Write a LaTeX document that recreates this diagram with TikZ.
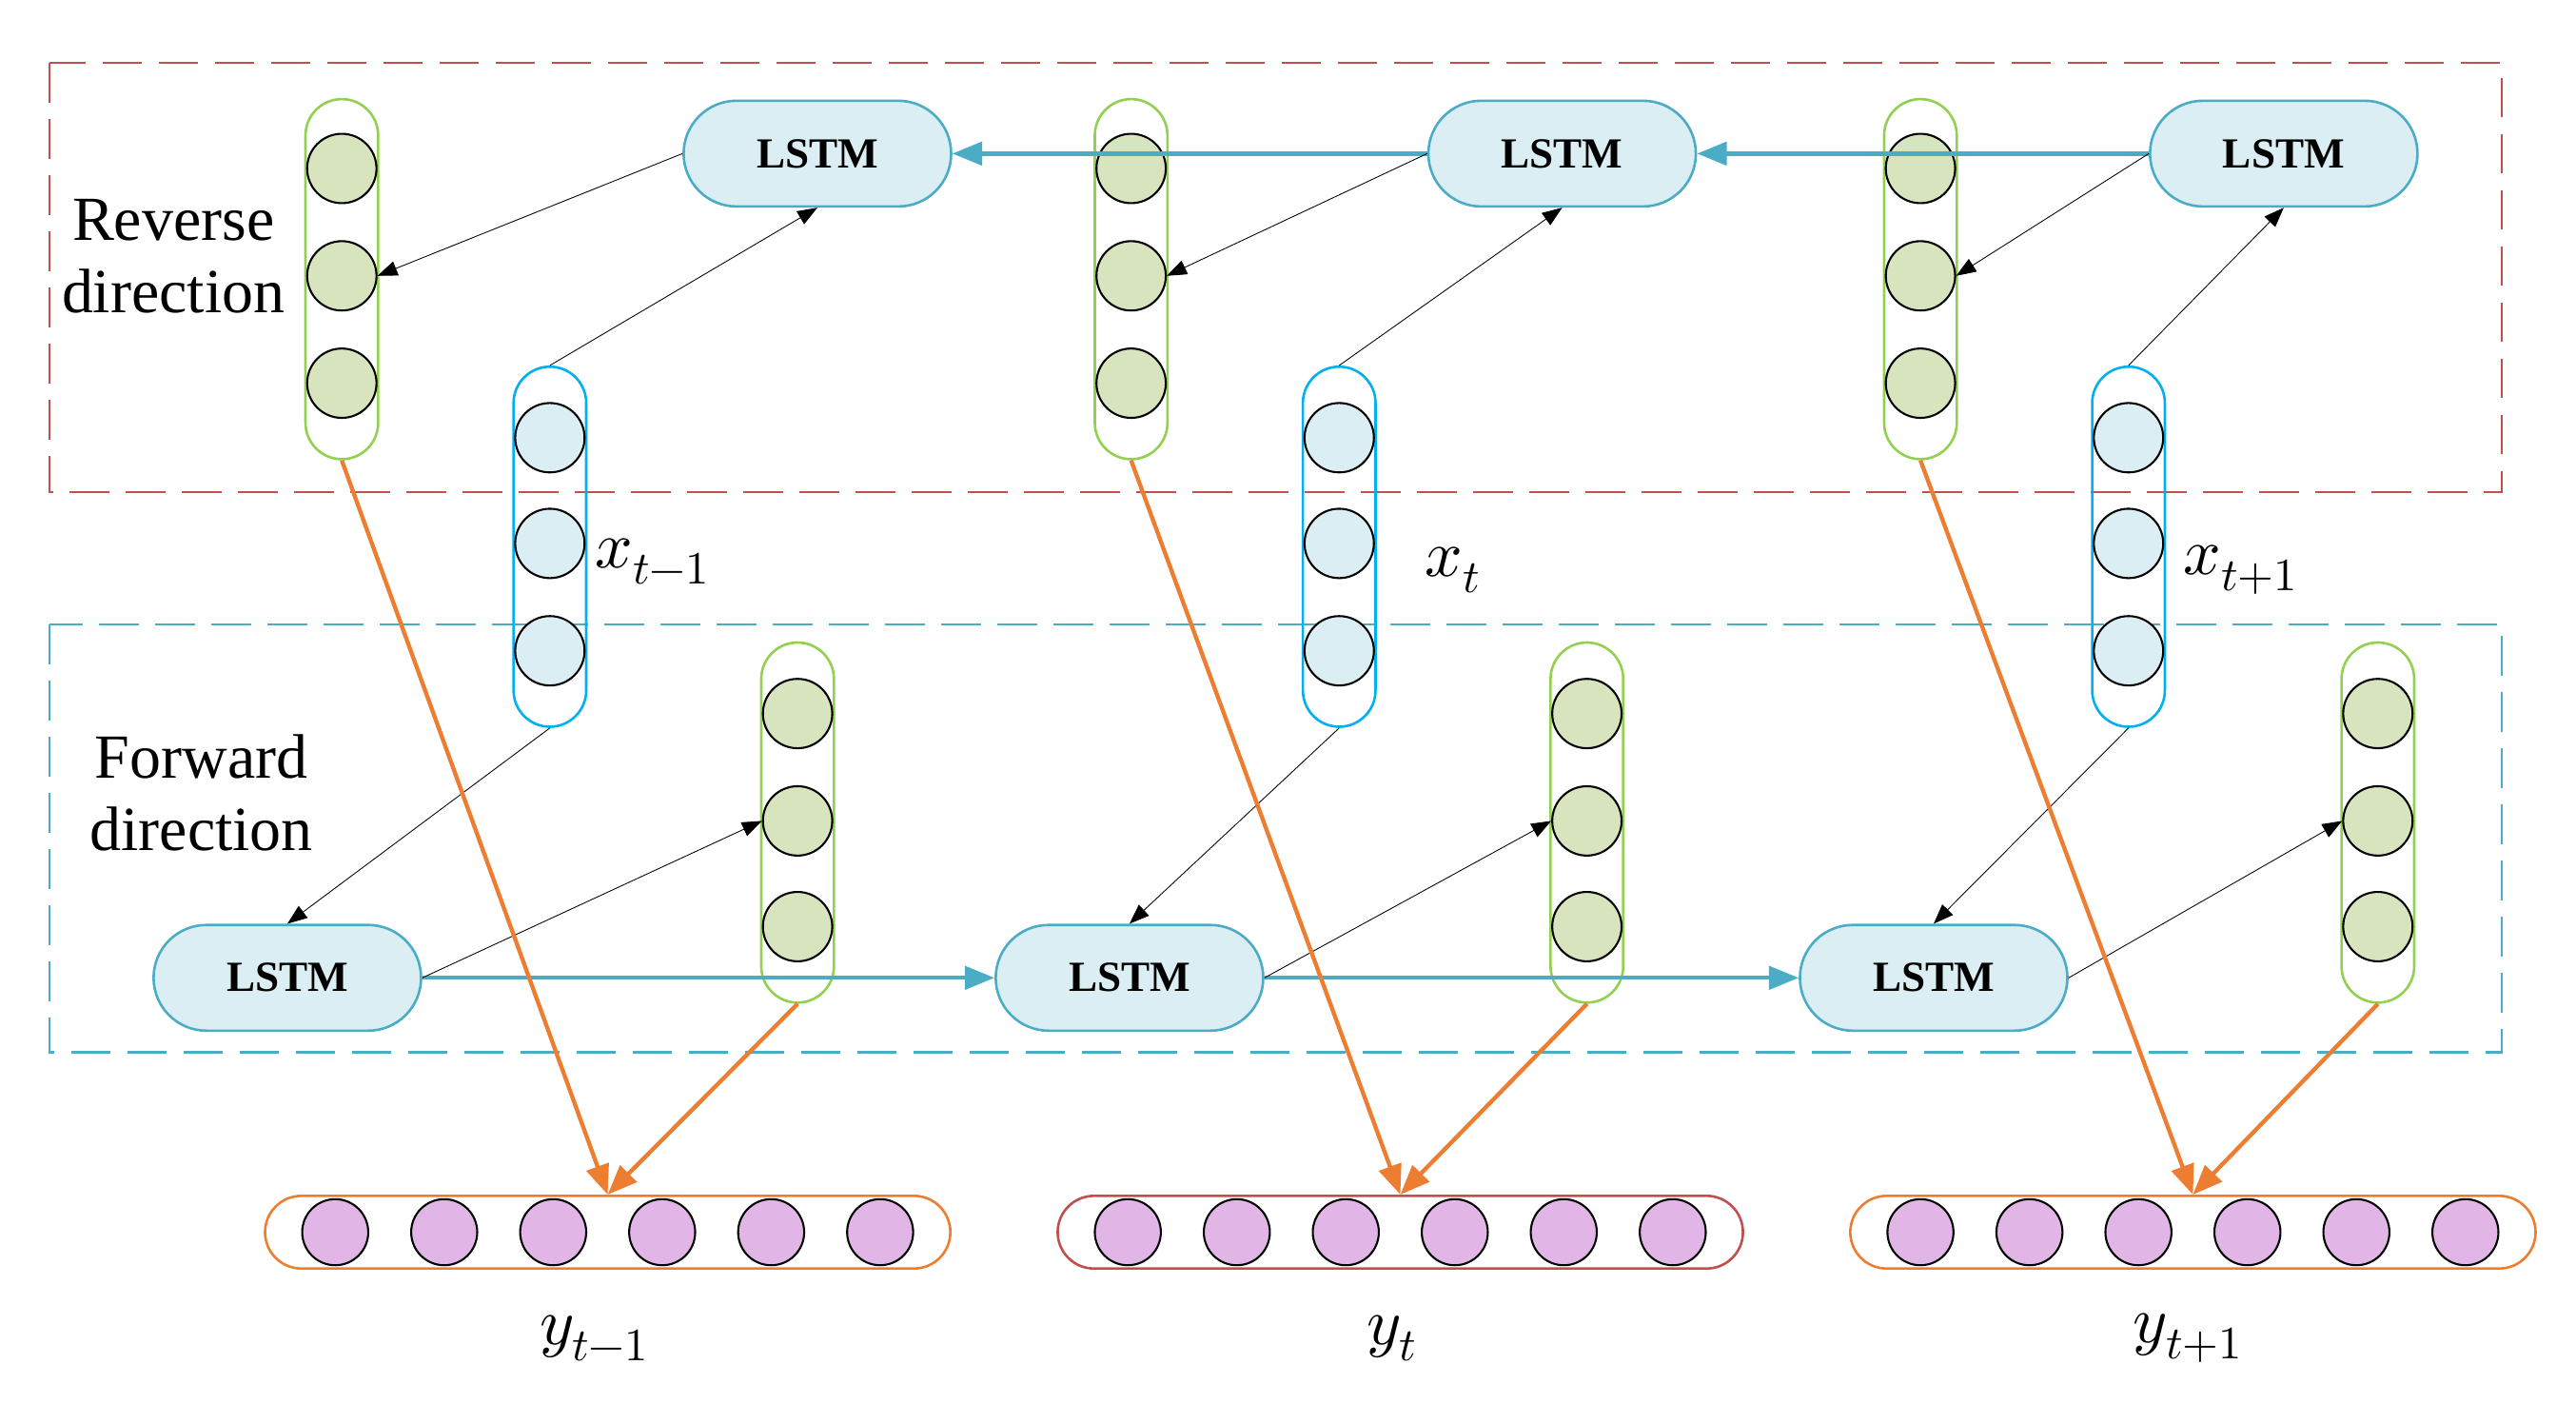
\documentclass[tikz,border=0pt]{standalone}
\usepackage{fontspec}
\setmainfont{Liberation Serif}
\usepackage{unicode-math}
\setmathfont{Latin Modern Math}
\usetikzlibrary{arrows.meta}
\definecolor{lb}{RGB}{219,238,244}
\definecolor{lbd}{RGB}{75,172,198}
\definecolor{gf}{RGB}{215,228,189}
\definecolor{gb}{RGB}{146,208,80}
\definecolor{cy}{RGB}{0,176,240}
\definecolor{pk}{RGB}{225,182,230}
\definecolor{og}{RGB}{237,125,49}
\definecolor{rd}{RGB}{192,80,77}
\begin{document}
\begin{tikzpicture}[x=1pt,y=-1pt,
 lstm/.style={draw=lbd,fill=lb,line width=1.5pt,rounded corners=32pt,minimum width=162pt,minimum height=64pt,font=\fontsize{26}{26}\selectfont\bfseries},
 col/.style={line width=1.5pt,rounded corners=22pt,minimum width=44pt,minimum height=218pt},
 gc/.style={circle,draw=black,fill=gf,line width=1.2pt,minimum size=42pt,inner sep=0},
 bc/.style={circle,draw=black,fill=lb,line width=1.2pt,minimum size=42pt,inner sep=0},
 pc/.style={circle,draw=black,fill=pk,line width=1.2pt,minimum size=40pt,inner sep=0},
 bar/.style={line width=1.5pt,rounded corners=22pt,minimum width=415pt,minimum height=44pt},
 thin/.style={line width=0.5pt,-{Triangle[length=12pt,width=9pt]}},
 rec/.style={draw=lbd,line width=2.5pt,-{Triangle[length=18pt,width=14pt]}},
 oarr/.style={draw=og,line width=2.5pt,-{Triangle[length=18pt,width=14pt]}},
 lab/.style={font=\fontsize{38}{44}\selectfont,align=center},
 ml/.style={font=\fontsize{40}{40}\selectfont}]
\useasboundingbox (0,0) rectangle (1560,850);
\draw[rd,line width=1.5pt,dash pattern=on 24pt off 10pt] (30,38) rectangle (1515,298);
\draw[lbd,line width=1.5pt,dash pattern=on 24pt off 10pt] (30,378) rectangle (1515,637);
\node[lab] (rev) at (105,155) {Reverse\\direction};
\node[lab] (fwd) at (122,480) {Forward\\direction};
\foreach \i/\tx/\ix/\bx/\ox/\bl in {1/207/333/483/368/og,2/685/811/961/848/rd,3/1163/1289/1440/1328/og}{
 \node[col,draw=gb] (tg\i) at (\tx,169) {};
 \node[gc] (tg\i a) at (\tx,102) {};\node[gc] (tg\i b) at (\tx,167) {};\node[gc] (tg\i c) at (\tx,232) {};
 \node[col,draw=cy] (in\i) at (\ix,331) {};
 \node[bc] (in\i a) at (\ix,265) {};\node[bc] (in\i b) at (\ix,329) {};\node[bc] (in\i c) at (\ix,394) {};
 \node[col,draw=gb] (bg\i) at (\bx,498) {};
 \node[gc] (bg\i a) at (\bx,432) {};\node[gc] (bg\i b) at (\bx,497) {};\node[gc] (bg\i c) at (\bx,561) {};
 \node[bar,draw=\bl] (o\i) at (\ox,746) {};
 \foreach \k/\d in {1/-165,2/-99,3/-33,4/33,5/99,6/165}{\node[pc] (o\i p\k) at (\ox+\d,746) {};}
}
\node[lstm] (tl1) at (495,93) {LSTM};
\node[lstm] (tl2) at (946,93) {LSTM};
\node[lstm] (tl3) at (1383,93) {LSTM};
\node[lstm] (bl1) at (174,592) {LSTM};
\node[lstm] (bl2) at (684,592) {LSTM};
\node[lstm] (bl3) at (1171,592) {LSTM};
\draw[rec] (tl3) -- (tl2);
\draw[rec] (tl2) -- (tl1);
\draw[rec] (bl1) -- (bl2);
\draw[rec] (bl2) -- (bl3);
\foreach \i in {1,2,3}{
 \draw[thin] (tl\i.west) -- (tg\i b.east);
 \draw[thin] (in\i.north) -- (tl\i.south);
 \draw[thin] (in\i.south) -- (bl\i.north);
 \draw[thin] (bl\i.east) -- (bg\i b.west);
 \draw[oarr] (tg\i.south) -- (o\i.north);
 \draw[oarr] (bg\i.south) -- (o\i.north);
}
\node[ml] (x1) at (395,340) {$x_{t-1}$};
\node[ml] (x2) at (880,345) {$x_{t}$};
\node[ml] (x3) at (1357,345) {$x_{t+1}$};
\node[ml] (y1) at (360,810) {$y_{t-1}$};
\node[ml] (y2) at (843,810) {$y_{t}$};
\node[ml] (y3) at (1325,810) {$y_{t+1}$};
\end{tikzpicture}
\end{document}
